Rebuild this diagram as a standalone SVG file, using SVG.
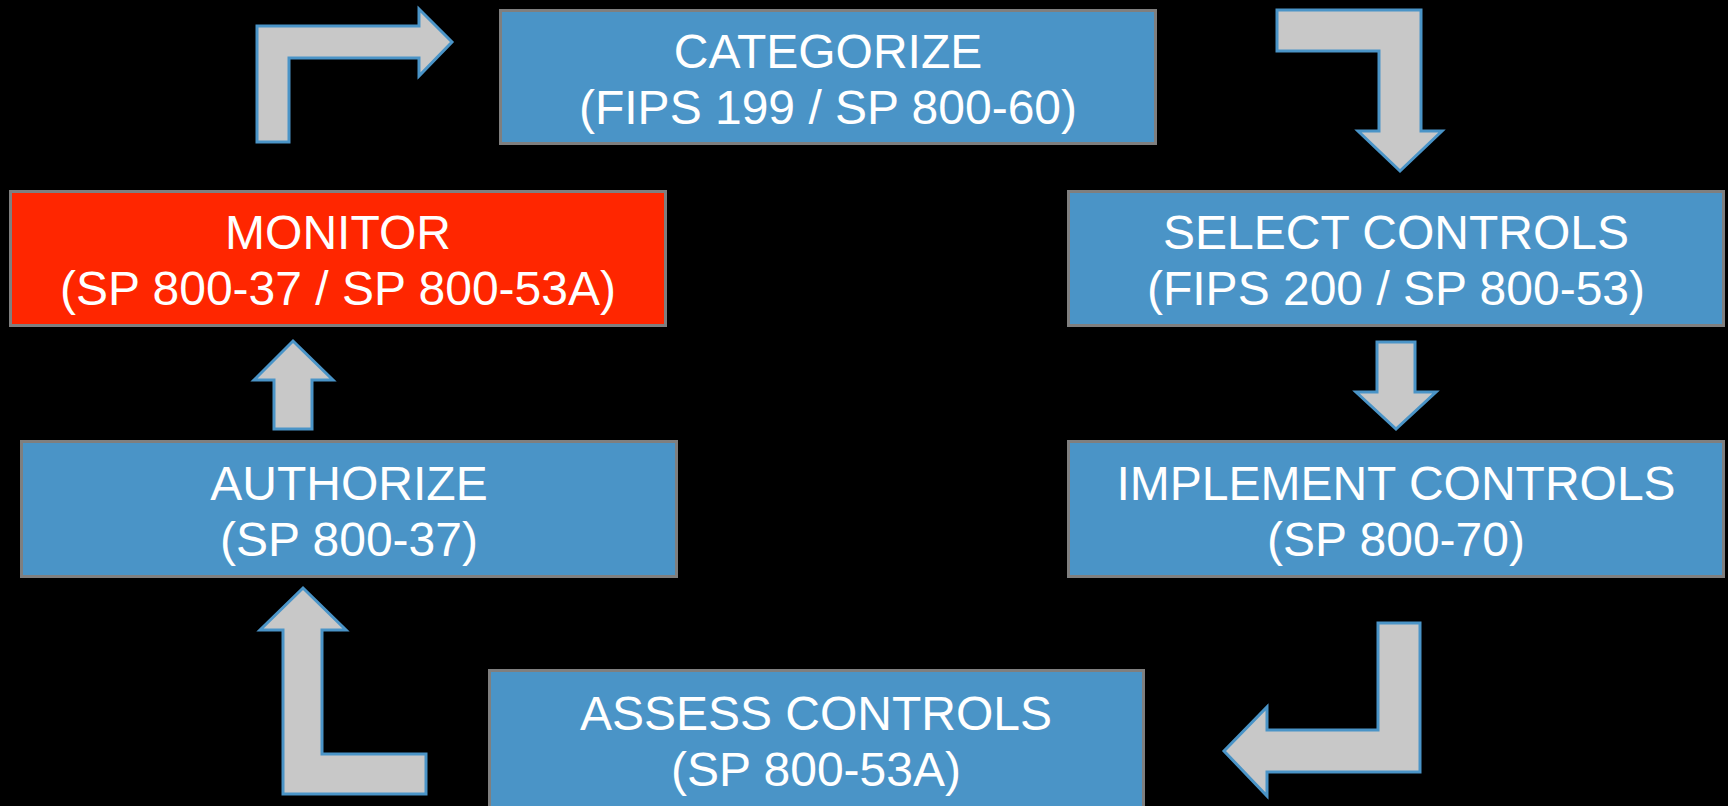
<svg xmlns="http://www.w3.org/2000/svg" width="1728" height="806" viewBox="0 0 1728 806">
  <style>
    .box { fill: #4A94C7; stroke: #7F7F7F; stroke-width: 3; }
    .box.alert { fill: #FF2600; }
    .lbl { font-family: "Liberation Sans", Arial, sans-serif; font-size: 48px; fill: #FFFFFF; text-anchor: middle; }
    .flow { fill: #C8C8C8; stroke: #4A94C7; stroke-width: 3; stroke-linejoin: miter; }
  </style>
  <rect x="0" y="0" width="1728" height="806" fill="#000000"/>

  <!-- block arrows linking the steps of the cycle -->
  <g id="connectors">
    <polygon class="flow" points="257,142 257,26 419,26 419,9 452,42 419,76 419,58 289,58 289,142"/>
    <polygon class="flow" points="1277,10 1421,10 1421,131 1442,131 1400,171 1358,131 1379,131 1379,51 1277,51"/>
    <polygon class="flow" points="1377,342 1415,342 1415,392 1436,392 1396,429 1356,392 1377,392"/>
    <polygon class="flow" points="1378,623 1420,623 1420,772 1267,772 1267,796 1224,751 1267,707 1267,730 1378,730"/>
    <polygon class="flow" points="303,588 346,630 322,630 322,754 426,754 426,794 283,794 283,630 260,630"/>
    <polygon class="flow" points="293,341 333,380 312,380 312,429 274,429 274,380 254,380"/>
  </g>

  <g id="categorize">
    <rect class="box" x="500.5" y="10.5" width="655" height="133"/>
    <text class="lbl" x="828" y="68">CATEGORIZE</text>
    <text class="lbl" x="828" y="124">(FIPS 199 / SP 800-60)</text>
  </g>

  <g id="select">
    <rect class="box" x="1068.5" y="191.5" width="655" height="134"/>
    <text class="lbl" x="1396" y="249">SELECT CONTROLS</text>
    <text class="lbl" x="1396" y="305">(FIPS 200 / SP 800-53)</text>
  </g>

  <g id="implement">
    <rect class="box" x="1068.5" y="441.5" width="655" height="135"/>
    <text class="lbl" x="1396" y="500">IMPLEMENT CONTROLS</text>
    <text class="lbl" x="1396" y="556">(SP 800-70)</text>
  </g>

  <g id="assess">
    <rect class="box" x="489.5" y="670.5" width="654" height="140"/>
    <text class="lbl" x="816" y="730">ASSESS CONTROLS</text>
    <text class="lbl" x="816" y="786">(SP 800-53A)</text>
  </g>

  <g id="authorize">
    <rect class="box" x="21.5" y="441.5" width="655" height="135"/>
    <text class="lbl" x="349" y="500">AUTHORIZE</text>
    <text class="lbl" x="349" y="556">(SP 800-37)</text>
  </g>

  <g id="monitor">
    <rect class="box alert" x="10.5" y="191.5" width="655" height="134"/>
    <text class="lbl" x="338" y="249">MONITOR</text>
    <text class="lbl" x="338" y="305">(SP 800-37 / SP 800-53A)</text>
  </g>
</svg>
